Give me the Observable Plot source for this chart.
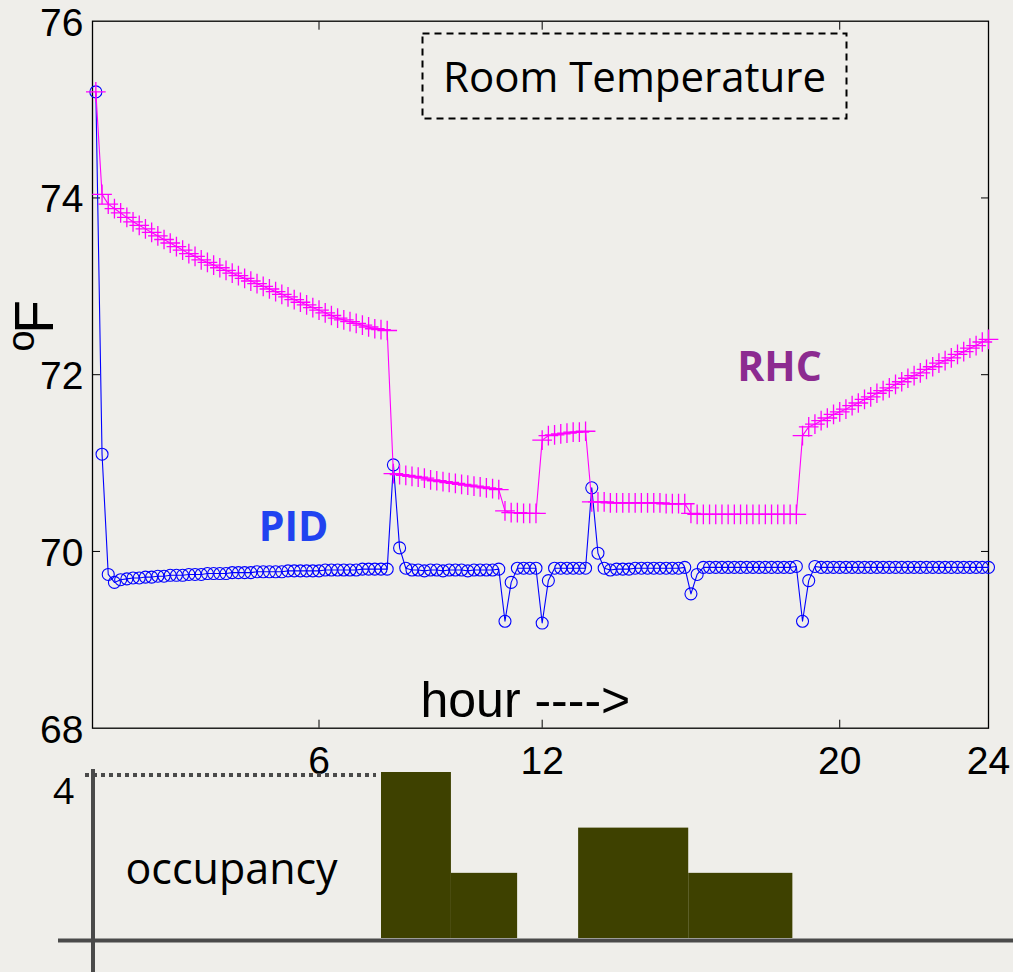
<!DOCTYPE html>
<html><head><meta charset="utf-8">
<script src="https://cdn.jsdelivr.net/npm/d3@7"></script>
<script src="https://cdn.jsdelivr.net/npm/@observablehq/plot@0.6"></script>
<style>
html,body{margin:0;padding:0;background:#efeeea;}
#wrap{position:relative;width:1013px;height:972px;overflow:hidden;background:#efeeea;}
#top,#bottom{position:absolute;left:0;}
#top{top:0;}
#bottom{top:745px;}
svg{overflow:visible;}
</style></head><body><div id="wrap"><div id="top"></div><div id="bottom"></div></div>
<script>
// Room temperature (°F), sampled every 10 minutes over 24 hours
const pidTemp = [
  75.20, 71.10, 69.74, 69.65, 69.68, 69.69, 69.70, 69.70, 69.71, 69.71,
  69.72, 69.72, 69.73, 69.73, 69.73, 69.74, 69.74, 69.74, 69.75, 69.75,
  69.75, 69.75, 69.76, 69.76, 69.76, 69.76, 69.77, 69.77, 69.77, 69.77,
  69.77, 69.78, 69.78, 69.78, 69.78, 69.78, 69.78, 69.79, 69.79, 69.79,
  69.79, 69.79, 69.79, 69.80, 69.80, 69.80, 69.80, 69.80,
  70.98, 70.04, 69.81,
  69.79, 69.79, 69.78, 69.79, 69.79, 69.78, 69.79, 69.79, 69.79, 69.78, 69.79, 69.79, 69.79, 69.79, 69.80,
  69.21, 69.65,
  69.81, 69.81, 69.81, 69.81,
  69.19, 69.67,
  69.81, 69.81, 69.81, 69.81, 69.81, 69.81,
  70.72, 69.98, 69.81,
  69.79, 69.80, 69.80, 69.80, 69.81, 69.81, 69.81, 69.81, 69.81, 69.81, 69.81, 69.81, 69.82,
  69.52, 69.74,
  69.82, 69.82, 69.82, 69.82, 69.82, 69.82, 69.82, 69.82, 69.82, 69.82, 69.82, 69.82, 69.82, 69.82, 69.82, 69.83,
  69.21, 69.67,
  69.83, 69.82, 69.82, 69.82, 69.82, 69.82, 69.82, 69.82, 69.82, 69.82, 69.82, 69.82, 69.82, 69.82, 69.82,
  69.82, 69.82, 69.82, 69.82, 69.82, 69.82, 69.82, 69.82, 69.82, 69.82, 69.82, 69.82, 69.82, 69.82
];
const rhcTemp = [
  75.20, 74.04, 73.93, 73.88, 73.83, 73.78, 73.73, 73.69, 73.65, 73.61,
  73.57, 73.53, 73.49, 73.45, 73.41, 73.37, 73.34, 73.30, 73.27, 73.24,
  73.21, 73.18, 73.15, 73.12, 73.09, 73.06, 73.03, 73.00, 72.97, 72.94,
  72.91, 72.88, 72.85, 72.82, 72.79, 72.76, 72.73, 72.70, 72.67, 72.64,
  72.62, 72.60, 72.58, 72.56, 72.54, 72.52, 72.51, 72.50,
  70.88, 70.87, 70.86, 70.85, 70.84, 70.83, 70.81, 70.80, 70.79, 70.78,
  70.77, 70.76, 70.75, 70.74, 70.73, 70.72, 70.71, 70.70,
  70.46, 70.44, 70.44, 70.43, 70.43, 70.43,
  71.26, 71.31, 71.32, 71.33, 71.34, 71.35, 71.35, 71.36,
  70.56, 70.56, 70.56, 70.55, 70.55, 70.55, 70.55, 70.55, 70.55, 70.55, 70.55, 70.55, 70.54, 70.54, 70.54, 70.54,
  70.43, 70.42, 70.42, 70.42, 70.42, 70.42, 70.42, 70.42, 70.42, 70.42, 70.42, 70.42, 70.42, 70.42, 70.42, 70.42, 70.42, 70.42,
  71.31, 71.41, 71.44, 71.48, 71.51, 71.55, 71.58, 71.61, 71.65, 71.68,
  71.72, 71.75, 71.79, 71.82, 71.85, 71.89, 71.92, 71.96, 71.99, 72.02,
  72.06, 72.09, 72.13, 72.16, 72.19, 72.23, 72.26, 72.30, 72.33, 72.37, 72.40
];
const sampleMinutes = 10;
const hourTicks = [6, 12, 20, 24];
const tempTicks = [68, 70, 72, 74, 76];
const innerTempTicks = [70, 72, 74];

// Occupancy (people) per period, hours
const occStart = [7.68, 9.56, 12.98, 15.94];
const occEnd = [9.56, 11.34, 15.94, 18.74];
const occupancy = [4, 1.57, 2.66, 1.57];
const occTicks = [4];

const hours = pidTemp.map((_, i) => i * sampleMinutes / 60);
const pid = pidTemp.map((v, i) => ({hour: hours[i], temp: v}));
const rhc = rhcTemp.map((v, i) => ({hour: hours[i], temp: v}));
const occ = occupancy.map((v, i) => ({start: occStart[i], end: occEnd[i], n: v}));

const xDomain = [-0.09, 24];
const sans = "Liberation Sans, Arial, Helvetica, sans-serif";
const humanist = "Open Sans, DejaVu Sans, sans-serif";

const topPlot = Plot.plot({
  width: 1013, height: 790,
  marginLeft: 92, marginRight: 25, marginTop: 20.7, marginBottom: 62.3,
  x: {domain: xDomain, axis: null},
  y: {domain: [68, 76], axis: null},
  style: {background: "transparent", overflow: "visible"},
  marks: [
    Plot.axisX({ticks: hourTicks, anchor: "bottom", tickSize: 8, dy: -8, tickFormat: () => "", label: null, stroke: "black"}),
    Plot.axisX({ticks: hourTicks, anchor: "top", tickSize: 8, dy: 8, tickFormat: () => "", label: null, stroke: "black"}),
    Plot.axisY({ticks: innerTempTicks, anchor: "left", tickSize: 8, dx: 8, tickFormat: () => "", label: null, stroke: "black"}),
    Plot.axisY({ticks: innerTempTicks, anchor: "right", tickSize: 8, dx: -8, tickFormat: () => "", label: null, stroke: "black"}),
    Plot.frame({stroke: "black", strokeWidth: 1.3}),
    Plot.text(hourTicks, {x: d => d, text: d => String(d), frameAnchor: "bottom", dy: 17.6, lineAnchor: "top", textAnchor: "middle", fontSize: 39, fontFamily: sans, fill: "black"}),
    Plot.text(tempTicks, {y: d => d, text: d => String(d), frameAnchor: "left", dx: -9, dy: 2, textAnchor: "end", lineAnchor: "middle", fontSize: 39, fontFamily: sans, fill: "black"}),
    Plot.line(pid, {x: "hour", y: "temp", stroke: "#0000ff", strokeWidth: 1.1}),
    Plot.dot(pid, {x: "hour", y: "temp", r: 6, stroke: "#0000ff", fill: "none", strokeWidth: 1.1}),
    Plot.line(rhc, {x: "hour", y: "temp", stroke: "#ff00ff", strokeWidth: 1.1}),
    Plot.dot(rhc, {x: "hour", y: "temp", symbol: "plus", r: 6.4, stroke: "#ff00ff", strokeWidth: 1.3}),
    Plot.frame({stroke: "black", strokeWidth: 2, strokeDasharray: "7,5", insetLeft: 330, insetRight: 142, insetTop: 12.3, insetBottom: 609.7}),
    Plot.text(["Room Temperature"], {frameAnchor: "top", dx: 94, dy: 71, lineAnchor: "bottom", textAnchor: "middle", fontSize: 42, fontFamily: humanist, fill: "black"}),
    Plot.text(["PID"], {frameAnchor: "top-left", dx: 201, dy: 519.3, lineAnchor: "bottom", textAnchor: "middle", fontSize: 41, fontWeight: "bold", fontFamily: humanist, fill: "#2143f0"}),
    Plot.text(["RHC"], {frameAnchor: "top-left", dx: 687, dy: 359.3, lineAnchor: "bottom", textAnchor: "middle", fontSize: 41, fontWeight: "bold", fontFamily: humanist, fill: "#8c2b90"}),
    Plot.text(["hour ---->"], {frameAnchor: "top-left", dx: 328, dy: 695.3, lineAnchor: "bottom", textAnchor: "start", fontSize: 50, fontFamily: sans, fill: "black"}),
    Plot.text(["F"], {frameAnchor: "left", dx: -57, dy: -57.7, rotate: -90, lineAnchor: "middle", textAnchor: "middle", fontSize: 55, fontFamily: sans, fill: "black"}),
    Plot.text(["o"], {frameAnchor: "left", dx: -59, dy: -33.7, rotate: -90, lineAnchor: "bottom", textAnchor: "middle", fontSize: 38, fontFamily: sans, fill: "black"})
  ]
});
document.getElementById("top").appendChild(topPlot);

const bottomPlot = Plot.plot({
  width: 1013, height: 227,
  marginLeft: 92, marginRight: 25, marginTop: 27, marginBottom: 34,
  x: {domain: xDomain, axis: null},
  y: {domain: [0, 4], axis: null},
  style: {background: "transparent", overflow: "visible"},
  marks: [
    Plot.rectY(occ, {x1: "start", x2: "end", y: "n", fill: "#3e4100"}),
    Plot.ruleY([0], {stroke: "#4a4a4a", strokeWidth: 4, insetLeft: -34, insetRight: -25, dy: 2}),
    Plot.ruleX([xDomain[0]], {y1: 4, y2: 0, stroke: "#4a4a4a", strokeWidth: 4, insetTop: -3, insetBottom: -40, dx: 0.5}),
    Plot.ruleY(occTicks, {x1: xDomain[0], x2: occStart[0], stroke: "#4a4a4a", strokeWidth: 4, strokeDasharray: "4,4", insetLeft: -7, insetRight: 5, dy: 2.5}),
    Plot.text(occTicks, {y: d => d, text: d => String(d), frameAnchor: "left", dx: -29, dy: 31, lineAnchor: "bottom", textAnchor: "middle", fontSize: 37, fontFamily: humanist, fill: "black"}),
    Plot.text(["occupancy"], {frameAnchor: "top-left", dx: 33, dy: 111, lineAnchor: "bottom", textAnchor: "start", fontSize: 43, fontFamily: humanist, fill: "black"})
  ]
});
document.getElementById("bottom").appendChild(bottomPlot);
</script></body></html>
